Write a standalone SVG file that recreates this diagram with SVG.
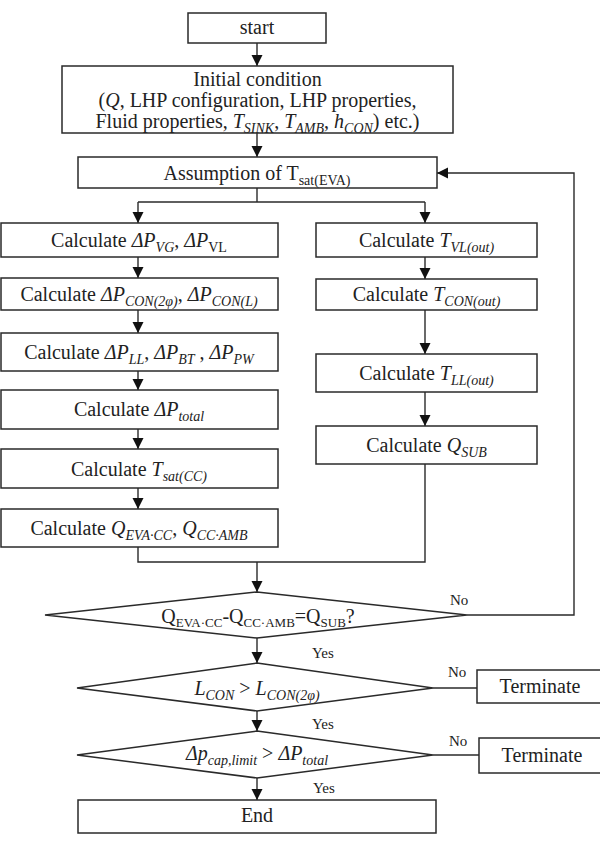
<svg xmlns="http://www.w3.org/2000/svg" width="600" height="848" viewBox="0 0 600 848">
<style>
  .box{fill:#fff;stroke:#2a2a2a;stroke-width:1.5}
  .ln{fill:none;stroke:#2a2a2a;stroke-width:1.4}
  .arr{fill:none;stroke:#2a2a2a;stroke-width:1.4;marker-end:url(#ah)}
  text{font-family:"Liberation Serif","DejaVu Serif","Times New Roman",serif;font-size:20px;fill:#222}
  .c{text-anchor:middle}
  .lbl{font-size:15px}
  .i{font-style:italic}
  .s{font-size:14px}
  .ss{font-size:13px}
</style>
<defs>
  <marker id="ah" markerUnits="userSpaceOnUse" markerWidth="12" markerHeight="12" refX="11" refY="5.5" orient="auto">
    <path d="M0,0 L11,5.5 L0,11 z" fill="#111"/>
  </marker>
</defs>

<g id="connectors">
  <line class="arr" x1="257" y1="43" x2="257" y2="66"/>
  <line class="arr" x1="257" y1="133" x2="257" y2="157"/>
  <polyline class="ln" points="257,188 257,202"/>
  <line class="ln" x1="138" y1="202" x2="425" y2="202"/>
  <line class="arr" x1="138" y1="202" x2="138" y2="223"/>
  <line class="arr" x1="425" y1="202" x2="425" y2="223"/>
  <line class="arr" x1="138" y1="257" x2="138" y2="278"/>
  <line class="arr" x1="138" y1="310" x2="138" y2="333"/>
  <line class="arr" x1="138" y1="371" x2="138" y2="390"/>
  <line class="arr" x1="138" y1="429" x2="138" y2="449"/>
  <line class="arr" x1="138" y1="488" x2="138" y2="509"/>
  <line class="arr" x1="425" y1="257" x2="425" y2="279"/>
  <line class="arr" x1="425" y1="310" x2="425" y2="354"/>
  <line class="arr" x1="425" y1="392" x2="425" y2="426"/>
  <polyline class="ln" points="138,547 138,562 425,562 425,464"/>
  <line class="arr" x1="257" y1="562" x2="257" y2="592"/>
  <polyline class="arr" points="467,615 574,615 574,173 437,173"/>
  <line class="arr" x1="257" y1="638" x2="257" y2="663"/>
  <line class="arr" x1="257" y1="711" x2="257" y2="731"/>
  <line class="arr" x1="257" y1="778" x2="257" y2="800"/>
  <line class="ln" x1="433" y1="688" x2="477" y2="688"/>
  <line class="ln" x1="433" y1="755" x2="479" y2="755"/>
  <text class="lbl" x="450" y="605">No</text>
  <text class="lbl" x="312" y="658">Yes</text>
  <text class="lbl" x="448" y="677">No</text>
  <text class="lbl" x="312" y="729">Yes</text>
  <text class="lbl" x="449" y="746">No</text>
  <text class="lbl" x="313" y="793">Yes</text>
</g>

<g id="start">
  <rect class="box" x="188" y="13" width="138" height="30"/>
  <text class="c" x="257" y="34">start</text>
</g>

<g id="initial">
  <rect class="box" x="62" y="66" width="391" height="67"/>
  <text class="c" x="257.5" y="86">Initial condition</text>
  <text class="c" x="257.5" y="107">(<tspan class="i">Q</tspan>, LHP configuration, LHP properties,</text>
  <text class="c" x="257.5" y="128">Fluid properties, <tspan class="i">T</tspan><tspan class="i s" dy="5">SINK</tspan><tspan dy="-5">, </tspan><tspan class="i">T</tspan><tspan class="i s" dy="5">AMB</tspan><tspan dy="-5">, </tspan><tspan class="i">h</tspan><tspan class="i s" dy="5">CON</tspan><tspan dy="-5">) etc.)</tspan></text>
</g>

<g id="assumption">
  <rect class="box" x="78" y="157" width="359" height="31"/>
  <text class="c" x="257" y="180">Assumption of T<tspan class="s" dy="5">sat(EVA)</tspan></text>
</g>

<g id="calc-dp-vg">
  <rect class="box" x="1" y="223" width="277" height="34"/>
  <text class="c" x="139" y="247">Calculate <tspan class="i">ΔP</tspan><tspan class="i s" dy="5">VG</tspan><tspan dy="-5">, </tspan><tspan class="i">ΔP</tspan><tspan class="s" dy="5">VL</tspan></text>
</g>
<g id="calc-dp-con">
  <rect class="box" x="1" y="278" width="277" height="32"/>
  <text class="c" x="139" y="301">Calculate <tspan class="i">ΔP</tspan><tspan class="i s" dy="5">CON(2φ)</tspan><tspan dy="-5">, </tspan><tspan class="i">ΔP</tspan><tspan class="i s" dy="5">CON(L)</tspan></text>
</g>
<g id="calc-dp-ll">
  <rect class="box" x="1" y="333" width="277" height="38"/>
  <text class="c" x="139" y="359">Calculate <tspan class="i">ΔP</tspan><tspan class="i s" dy="5">LL</tspan><tspan dy="-5">, </tspan><tspan class="i">ΔP</tspan><tspan class="i s" dy="5">BT</tspan><tspan dy="-5"> , </tspan><tspan class="i">ΔP</tspan><tspan class="i s" dy="5">PW</tspan></text>
</g>
<g id="calc-dp-total">
  <rect class="box" x="1" y="390" width="277" height="39"/>
  <text class="c" x="139" y="416">Calculate <tspan class="i">ΔP</tspan><tspan class="i s" dy="5">total</tspan></text>
</g>
<g id="calc-tsat-cc">
  <rect class="box" x="1" y="449" width="277" height="39"/>
  <text class="c" x="139" y="476">Calculate <tspan class="i">T</tspan><tspan class="i s" dy="5">sat(CC)</tspan></text>
</g>
<g id="calc-q-eva">
  <rect class="box" x="1" y="509" width="277" height="38"/>
  <text class="c" x="139" y="535">Calculate <tspan class="i">Q</tspan><tspan class="i s" dy="5">EVA·CC</tspan><tspan dy="-5">, </tspan><tspan class="i">Q</tspan><tspan class="i s" dy="5">CC·AMB</tspan></text>
</g>

<g id="calc-t-vl">
  <rect class="box" x="316" y="223" width="221" height="34"/>
  <text class="c" x="426.5" y="247">Calculate <tspan class="i">T</tspan><tspan class="i s" dy="5">VL(out)</tspan></text>
</g>
<g id="calc-t-con">
  <rect class="box" x="316" y="279" width="221" height="31"/>
  <text class="c" x="426.5" y="301">Calculate <tspan class="i">T</tspan><tspan class="i s" dy="5">CON(out)</tspan></text>
</g>
<g id="calc-t-ll">
  <rect class="box" x="316" y="354" width="221" height="38"/>
  <text class="c" x="426.5" y="380">Calculate <tspan class="i">T</tspan><tspan class="i s" dy="5">LL(out)</tspan></text>
</g>
<g id="calc-q-sub">
  <rect class="box" x="316" y="426" width="221" height="38"/>
  <text class="c" x="426.5" y="452">Calculate <tspan class="i">Q</tspan><tspan class="i s" dy="5">SUB</tspan></text>
</g>

<g id="decision-balance">
  <polygon class="box" points="257,592 467,615 257,638 45,615"/>
  <text class="c" x="258" y="623">Q<tspan class="ss" dy="4">EVA·CC</tspan><tspan dy="-4">-Q</tspan><tspan class="ss" dy="4">CC·AMB</tspan><tspan dy="-4">=Q</tspan><tspan class="ss" dy="4">SUB</tspan><tspan dy="-4">?</tspan></text>
</g>

<g id="decision-length">
  <polygon class="box" points="257,663 433,688 257,711 77,688"/>
  <text class="c" x="257" y="695"><tspan class="i">L</tspan><tspan class="i s" dy="5">CON</tspan><tspan dy="-5"> &gt; </tspan><tspan class="i">L</tspan><tspan class="i s" dy="5">CON(2φ)</tspan></text>
</g>
<g id="terminate-1">
  <rect class="box" x="477" y="670" width="130" height="33"/>
  <text class="c" x="540" y="693">Terminate</text>
</g>

<g id="decision-pressure">
  <polygon class="box" points="257,731 433,755 257,778 77,755"/>
  <text class="c" x="257" y="760"><tspan class="i">Δp</tspan><tspan class="i s" dy="5">cap,limit</tspan><tspan dy="-5"> &gt; </tspan><tspan class="i">ΔP</tspan><tspan class="i s" dy="5">total</tspan></text>
</g>
<g id="terminate-2">
  <rect class="box" x="479" y="738" width="130" height="35"/>
  <text class="c" x="542" y="762">Terminate</text>
</g>

<g id="end">
  <rect class="box" x="78" y="800" width="358" height="33"/>
  <text class="c" x="257" y="822">End</text>
</g>
</svg>
